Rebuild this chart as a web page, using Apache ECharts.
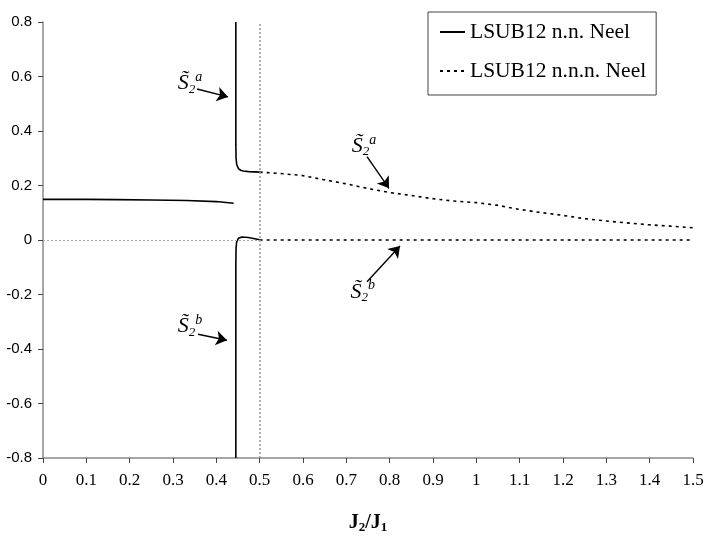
<!DOCTYPE html>
<html>
<head>
<meta charset="utf-8">
<script src="https://cdn.jsdelivr.net/npm/echarts@6/dist/echarts.min.js"></script>
<style>html,body{margin:0;padding:0;background:#fff}#c{width:708px;height:539px}</style>
</head>
<body>
<div id="c"></div>
<script>
// ---- data ----
var seriesNames = ['LSUB12 n.n. Neel', 'LSUB12 n.n.n. Neel'];
var xTicks = [0,0.1,0.2,0.3,0.4,0.5,0.6,0.7,0.8,0.9,1,1.1,1.2,1.3,1.4,1.5];
var yTicks = [-0.8,-0.6,-0.4,-0.2,0,0.2,0.4,0.6,0.8];
// n.n. Neel, flat branch
var nnFlat = [[0,0.149],[0.1,0.149],[0.17,0.148],[0.25,0.147],[0.332,0.145],[0.4,0.141],[0.44,0.135]];
// n.n. Neel, S2^a branch
var nnUpper = [[0.445,0.8],[0.445,0.5],[0.445,0.35],[0.4455,0.3],[0.447,0.277],[0.451,0.262],[0.456,0.256],[0.462,0.253],[0.475,0.251],[0.5,0.249]];
// n.n. Neel, S2^b branch
var nnLower = [[0.445,-0.8],[0.445,-0.5],[0.445,-0.1],[0.4455,-0.03],[0.447,-0.006],[0.451,0.006],[0.459,0.011],[0.474,0.009],[0.5,0.001]];
// n.n.n. Neel, S2^a
var nnnUpper = [[0.5,0.249],[0.547,0.244],[0.597,0.237],[0.646,0.222],[0.697,0.207],[0.747,0.19],[0.801,0.174],[0.847,0.164],[0.897,0.152],[0.946,0.143],[1.0,0.137],[1.047,0.128],[1.097,0.113],[1.147,0.101],[1.197,0.091],[1.247,0.079],[1.297,0.07],[1.347,0.063],[1.397,0.056],[1.447,0.051],[1.5,0.045]];
// n.n.n. Neel, S2^b
var nnnLower = [[0.5,0],[0.6,0],[0.8,0],[1.0,0],[1.2,0],[1.5,0]];
// annotations: label position, arrow start, arrow end (data coords)
var annLabels = [
  {txt:'a', pos:[0.339,0.575], from:[0.3554,0.554], to:[0.427,0.525]},
  {txt:'a', pos:[0.741,0.345], from:[0.7477,0.306], to:[0.7985,0.1895]},
  {txt:'b', pos:[0.738,-0.19], from:[0.7477,-0.153], to:[0.8239,-0.0219]},
  {txt:'b', pos:[0.339,-0.317], from:[0.3577,-0.346], to:[0.4246,-0.368]}
];

var chart = echarts.init(document.getElementById('c'), null, {renderer:'canvas'});
var serif = '"Liberation Serif", serif';
var sans = '"Liberation Sans", sans-serif';
var axisGray = '#8a8a8a';

var solidStyle = {color:'#000', width:1.6, type:'solid'};
var dotStyle = {color:'#000', width:1.6, type:[3,4]};

var option = {
  animation: false,
  backgroundColor: '#fff',
  grid: {left:43, right:15, top:22, bottom:78, containLabel:false},
  legend: {
    show: true,
    left: 428, top: 12,
    orient: 'vertical',
    data: seriesNames,
    borderColor: '#444', borderWidth: 1,
    padding: [9, 10, 13, 11],
    itemGap: 17,
    itemWidth: 25, itemHeight: 14,
    itemStyle: {opacity: 0},
    textStyle: {fontFamily: serif, fontSize: 21.5, color:'#000'},
    selectedMode: false
  },
  xAxis: {
    type:'value', min:0, max:1.5, interval:0.1,
    name: 'J{s|2}/J{s|1}',
    nameLocation:'middle', nameGap: 53,
    nameTextStyle: {fontFamily: serif, fontWeight:'bold', fontSize:20, color:'#000',
      rich:{s:{fontFamily: serif, fontWeight:'bold', fontSize:13, color:'#000', padding:[10,0,0,0]}}},
    axisLine:{onZero:false, lineStyle:{color:axisGray, width:1.5}},
    axisTick:{show:true, inside:false, length:5, lineStyle:{color:'#444'}},
    axisLabel:{fontFamily: serif, fontSize:17, color:'#000', margin:14,
      formatter:function(v){return String(+v.toFixed(1));}},
    splitLine:{show:false}
  },
  yAxis: {
    type:'value', min:-0.8, max:0.8, interval:0.2,
    axisLine:{onZero:false, lineStyle:{color:axisGray, width:1.5}},
    axisTick:{show:true, inside:false, length:5, lineStyle:{color:'#444'}},
    axisLabel:{fontFamily: sans, fontSize:15, color:'#000', margin:11,
      formatter:function(v){return String(+v.toFixed(1));}},
    splitLine:{show:false}
  },
  series: [
    {
      name: seriesNames[0], type:'line', data: nnFlat, symbol:'none', lineStyle: solidStyle, itemStyle:{color:'#000'},
      z: 3,
      markLine: {
        silent:true, symbol:['none','arrow'], symbolSize:11,
        label:{show:false},
        lineStyle:{color:'#000', width:1.4, type:'solid'},
        data: annLabels.map(function(a){return [{coord:a.from},{coord:a.to}];})
      },
      markPoint: {
        silent:true, symbol:'circle', symbolSize:2,
        itemStyle:{color:'rgba(0,0,0,0)'},
        label:{show:true, position:'inside',
          formatter:function(p){return '{s|S\u0303}{sub|2}{sup|' + p.data.t + '}';},
          rich:{
            s:{fontFamily:serif, fontStyle:'italic', fontSize:22, color:'#000'},
            sub:{fontFamily:serif, fontStyle:'italic', fontSize:13, color:'#000', padding:[12,0,0,0]},
            sup:{fontFamily:serif, fontStyle:'italic', fontSize:14, color:'#000', padding:[0,0,12,0]}
          }},
        data: annLabels.map(function(a){return {coord:a.pos, t:a.txt};})
      }
    },
    {name: seriesNames[0], type:'line', data: nnUpper, symbol:'none', lineStyle: solidStyle, itemStyle:{color:'#000'}, z:3},
    {name: seriesNames[0], type:'line', data: nnLower, symbol:'none', lineStyle: solidStyle, itemStyle:{color:'#000'}, z:3},
    {
      name: seriesNames[1], type:'line', data: nnnUpper, symbol:'none', lineStyle: dotStyle, itemStyle:{color:'#000'}, z:3,
      markLine: {
        silent:true, symbol:['none','none'], label:{show:false},
        data: [
          [{coord:[0.5,-0.8], lineStyle:{color:'#999', width:1.5, type:[2,2]}},{coord:[0.5,0.8]}],
          [{coord:[0,0], lineStyle:{color:'#aaa', width:1, type:[2,2]}},{coord:[0.5,0]}]
        ]
      }
    },
    {name: seriesNames[1], type:'line', data: nnnLower, symbol:'none', lineStyle: dotStyle, itemStyle:{color:'#000'}, z:3}
  ]
};
chart.setOption(option);
</script>
</body>
</html>
